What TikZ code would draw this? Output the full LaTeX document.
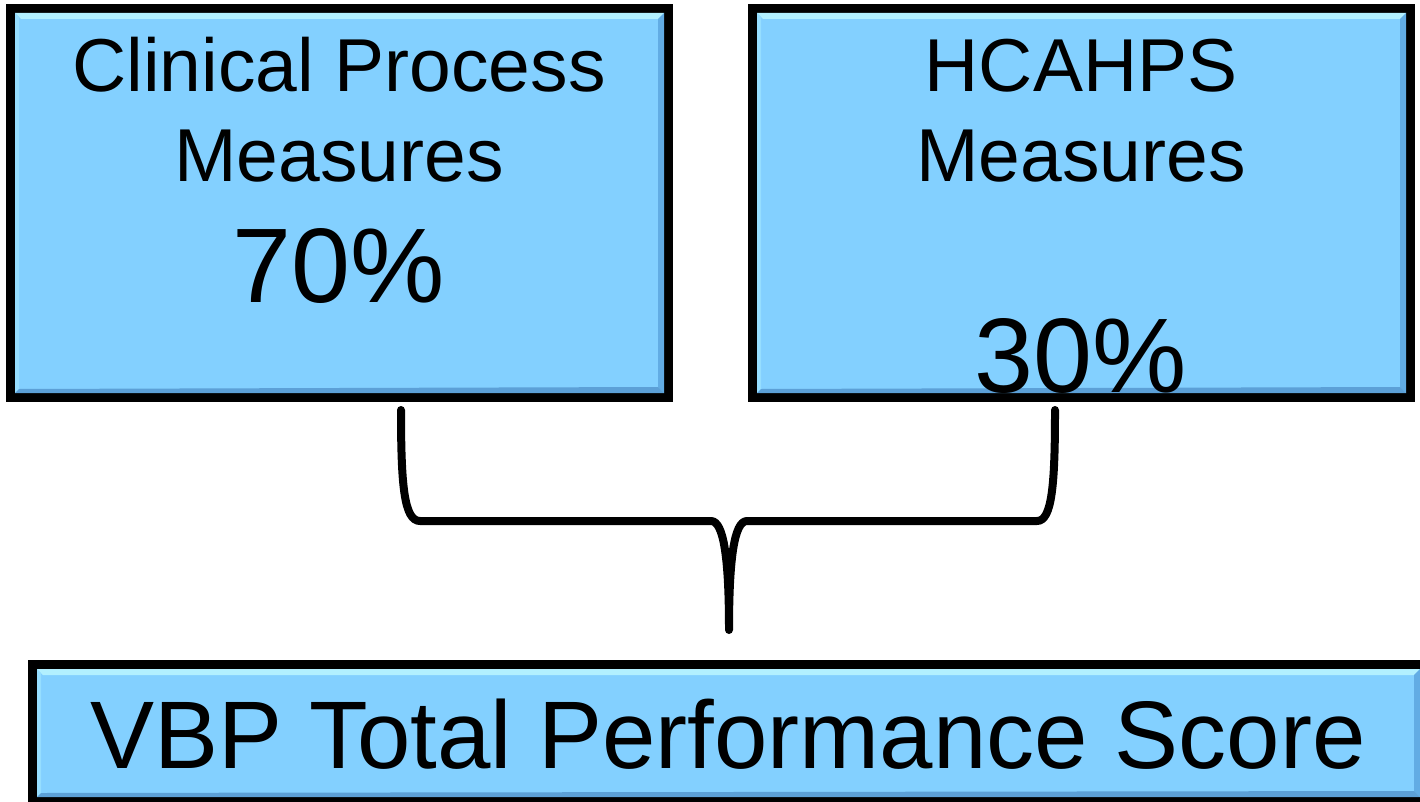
\documentclass[tikz,border=0pt]{standalone}
\usepackage{fontspec}
\setmainfont{Liberation Sans}
\usetikzlibrary{calc}

\definecolor{boxfill}{RGB}{131,208,255}
\definecolor{bevtop}{RGB}{178,240,255}
\definecolor{bevleft}{RGB}{150,222,255}
\definecolor{bevright}{RGB}{98,172,228}
\definecolor{bevbottom}{RGB}{92,160,215}

\tikzset{
  panel/.style={rectangle, draw=black, line width=9pt, fill=boxfill,
    inner sep=0pt, outer sep=0pt},
  label/.style={anchor=base, inner sep=0pt, text=black},
  small/.style={label, font=\fontsize{75}{90}\selectfont},
  big/.style={label, font=\fontsize{106}{120}\selectfont},
  wide/.style={label, font=\fontsize{96}{110}\selectfont},
  brace/.style={draw=black, line width=8pt, line cap=round, line join=round},
}

\begin{document}
\begin{tikzpicture}[x=1pt, y=-1pt]
\useasboundingbox (0,0) rectangle (1420,802);
\clip (0,0) rectangle (1420,802);

% the three panels
\node[panel, minimum width=658pt, minimum height=389pt] (clin) at (339.5,203) {};
\node[panel, minimum width=658pt, minimum height=389pt] (hcahps) at (1081.5,203) {};
\node[panel, minimum width=1392pt, minimum height=137pt] (vbp) at (728.5,733) {};

% bevelled inner edges of each panel
\foreach \n in {clin,hcahps,vbp}{
  \coordinate (\n-a) at ($(\n.north west)+(4.5pt,-4.5pt)$);
  \coordinate (\n-b) at ($(\n.north east)+(-4.5pt,-4.5pt)$);
  \coordinate (\n-c) at ($(\n.south east)+(-4.5pt,4.5pt)$);
  \coordinate (\n-d) at ($(\n.south west)+(4.5pt,4.5pt)$);
  \fill[bevtop] (\n-a) -- (\n-b) -- ($(\n-b)+(-6pt,-6pt)$) -- ($(\n-a)+(6pt,-6pt)$) -- cycle;
  \fill[bevleft] (\n-a) -- ($(\n-a)+(4pt,-4pt)$) -- ($(\n-d)+(4pt,4pt)$) -- (\n-d) -- cycle;
  \fill[bevright] (\n-b) -- (\n-c) -- ($(\n-c)+(-6pt,6pt)$) -- ($(\n-b)+(-6pt,-6pt)$) -- cycle;
  \fill[bevbottom] (\n-d) -- (\n-c) -- ($(\n-c)+(-6pt,6pt)$) -- ($(\n-d)+(4pt,4pt)$) -- cycle;
}

% panel texts
\node[small] (t1) at (339,92) {Clinical Process};
\node[small] (t2) at (339,182) {Measures};
\node[big]   (t3) at (339,302) {70\%};
\node[small] (t4) at (1081,92) {HCAHPS};
\node[small] (t5) at (1081,182) {Measures};
\node[big]   (t6) at (1081,392) {30\%};
\node[wide]  (t7) at (728,768) {VBP Total Performance Score};

% curly brace joining the two measure panels
\coordinate (bl) at (401,410);
\coordinate (br) at (1055,410);
\coordinate (tip) at (729,630);
\draw[brace] (bl) .. controls (401,485) and (404,521) .. (420,521)
  -- (711,521) .. controls (724,521) and (729,560) .. (tip)
  .. controls (729,560) and (734,521) .. (747,521)
  -- (1037,521) .. controls (1052,521) and (1055,485) .. (br);
\end{tikzpicture}
\end{document}
